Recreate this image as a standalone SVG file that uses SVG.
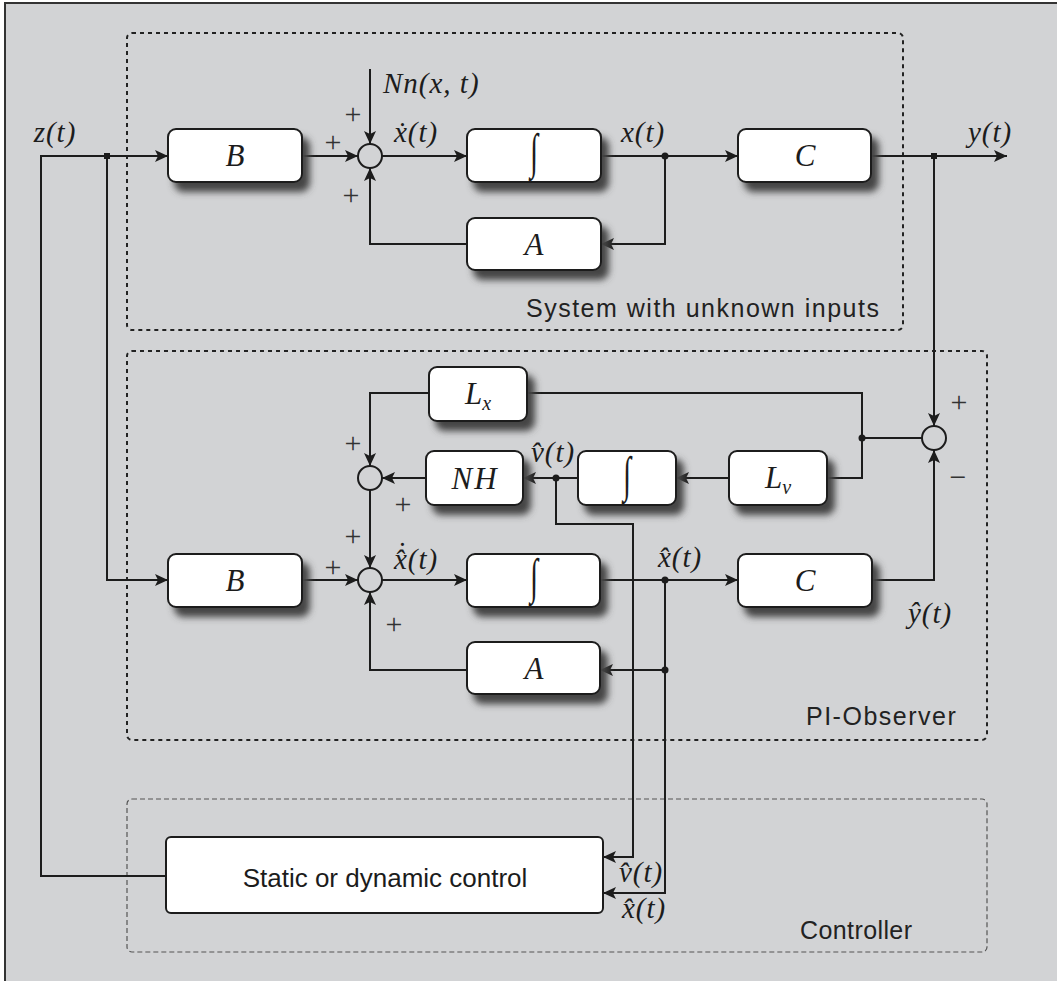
<svg xmlns="http://www.w3.org/2000/svg" width="1057" height="981" viewBox="0 0 1057 981">
<defs>
<filter id="sh" x="-20%" y="-30%" width="150%" height="190%">
<feDropShadow dx="7" dy="9" stdDeviation="3.5" flood-color="#454545" flood-opacity="1"/>
</filter>
<marker id="ar" markerUnits="userSpaceOnUse" markerWidth="14" markerHeight="12" refX="13" refY="6" orient="auto">
<path d="M0,0 L13,6 L0,12 L3,6 z" fill="#1c1c1c"/>
</marker>
<style>
.blk{fill:#fff;stroke:#1c1c1c;stroke-width:2;filter:url(#sh)}
.ln{fill:none;stroke:#1c1c1c;stroke-width:2}
.arr{fill:none;stroke:#1c1c1c;stroke-width:2;marker-end:url(#ar)}
.sum{fill:none;stroke:#1c1c1c;stroke-width:2}
.grp{fill:none;stroke:#222;stroke-width:2;stroke-dasharray:4 4}
.grpc{fill:none;stroke:#555;stroke-width:1.2;stroke-dasharray:5 3}
.m{font-family:"Liberation Serif","Times New Roman",serif;font-style:italic;fill:#1c1c1c;font-size:29px;letter-spacing:1px}
.mb{font-family:"Liberation Serif","Times New Roman",serif;font-style:italic;fill:#1c1c1c;font-size:31px;text-anchor:middle}
.int{font-family:"Liberation Serif","DejaVu Serif",serif;fill:#1c1c1c;font-size:34px;text-anchor:middle}
.pm{font-family:"Liberation Serif","Times New Roman",serif;fill:#333;font-size:30px;text-anchor:middle}
.sl{font-family:"Liberation Sans",Arial,sans-serif;fill:#222;font-size:25px;letter-spacing:1.5px}
.dot{fill:#1c1c1c}
</style>
</defs>
<rect x="5" y="3" width="1070" height="1000" fill="#d2d3d5" stroke="#333" stroke-width="2"/>
<g id="groups">
<rect id="system-box" class="grp" x="127" y="33" width="776" height="297" rx="5"/>
<rect id="observer-box" class="grp" x="127" y="351" width="860" height="389" rx="5"/>
<rect id="controller-box" class="grpc" x="127" y="799" width="860" height="153" rx="5"/>
<text class="sl" x="526" y="317">System with unknown inputs</text>
<text class="sl" x="806" y="725">PI-Observer</text>
<text class="sl" x="800" y="939" style="letter-spacing:0.4px">Controller</text>
</g>
<g id="connectors">
<path class="arr" d="M166,876 H41 V156 H168"/>
<path class="arr" d="M302,156 H358"/>
<path class="arr" d="M370,69 V144"/>
<path class="arr" d="M382,156 H467"/>
<path class="arr" d="M601,156 H738"/>
<path class="arr" d="M665,156 V244 H601"/>
<path class="arr" d="M467,244 H370 V168"/>
<path class="arr" d="M871,156 H1007"/>
<path class="arr" d="M934,156 V426"/>
<path class="arr" d="M107,156 V580 H168"/>
<path class="arr" d="M302,580 H358"/>
<path class="arr" d="M382,580 H467"/>
<path class="arr" d="M600,580 H738"/>
<path class="arr" d="M872,580 H934 V450"/>
<path class="ln" d="M922,438 H862"/>
<path class="ln" d="M862,438 V393 H527"/>
<path class="ln" d="M862,438 V478 H827"/>
<path class="arr" d="M429,393 H370 V466"/>
<path class="arr" d="M729,478 H676"/>
<path class="arr" d="M578,478 H523"/>
<path class="arr" d="M426,478 H382"/>
<path class="arr" d="M370,490 V568"/>
<path class="arr" d="M665,580 V670 H600"/>
<path class="arr" d="M665,670 V893 H603"/>
<path class="arr" d="M467,670 H370 V592"/>
<path class="arr" d="M556,478 V524 H633 V857 H603"/>
<rect class="dot" x="104" y="153" width="6" height="6"/>
<rect class="dot" x="931" y="153" width="6" height="6"/>
<circle class="dot" cx="665" cy="156" r="3.5"/>
<circle class="dot" cx="862" cy="438" r="3.5"/>
<circle class="dot" cx="556" cy="478" r="3.5"/>
<circle class="dot" cx="665" cy="580" r="3.5"/>
<circle class="dot" cx="665" cy="670" r="3.5"/>
</g>
<g id="sum1"><circle class="sum" cx="370" cy="156" r="12"/></g>
<g id="sum-small"><circle class="sum" cx="370" cy="478" r="12"/></g>
<g id="sum2"><circle class="sum" cx="370" cy="580" r="12"/></g>
<g id="sum3"><circle class="sum" cx="934" cy="438" r="12"/></g>
<g id="sys-B"><rect class="blk" x="168" y="129" width="134" height="53" rx="8"/><text class="mb" x="235" y="166">B</text></g>
<g id="sys-int"><rect class="blk" x="467" y="129" width="134" height="53" rx="8"/><text class="int" transform="translate(534,168) scale(0.85,1.45)">∫</text></g>
<g id="sys-C"><rect class="blk" x="738" y="129" width="133" height="53" rx="8"/><text class="mb" x="805" y="166">C</text></g>
<g id="sys-A"><rect class="blk" x="467" y="218" width="134" height="52" rx="8"/><text class="mb" x="534" y="255">A</text></g>
<g id="obs-Lx"><rect class="blk" x="429" y="367" width="98" height="54" rx="8"/><text class="mb" x="478" y="404">L<tspan font-size="20" dy="6">x</tspan></text></g>
<g id="obs-NH"><rect class="blk" x="426" y="451" width="97" height="54" rx="8"/><text class="mb" x="475" y="489" letter-spacing="2">NH</text></g>
<g id="obs-intv"><rect class="blk" x="578" y="451" width="98" height="54" rx="8"/><text class="int" transform="translate(627,491) scale(0.85,1.45)">∫</text></g>
<g id="obs-Lv"><rect class="blk" x="729" y="451" width="98" height="54" rx="8"/><text class="mb" x="778" y="488">L<tspan font-size="20" dy="6">v</tspan></text></g>
<g id="obs-B"><rect class="blk" x="168" y="554" width="134" height="53" rx="8"/><text class="mb" x="235" y="591">B</text></g>
<g id="obs-int"><rect class="blk" x="467" y="554" width="133" height="53" rx="8"/><text class="int" transform="translate(534,593) scale(0.85,1.45)">∫</text></g>
<g id="obs-C"><rect class="blk" x="738" y="554" width="134" height="53" rx="8"/><text class="mb" x="805" y="591">C</text></g>
<g id="obs-A"><rect class="blk" x="467" y="642" width="133" height="52" rx="8"/><text class="mb" x="534" y="679">A</text></g>
<g id="controller"><rect x="166" y="837" width="437" height="76" rx="5" fill="#fff" stroke="#1c1c1c" stroke-width="2"/><text x="385" y="887" text-anchor="middle" font-family="Liberation Sans Narrow,Liberation Sans,Arial,sans-serif" font-size="26" fill="#1c1c1c">Static or dynamic control</text></g>
<g id="labels">
<text class="m" x="55" y="142" text-anchor="middle">z(t)</text>
<text class="m" x="383" y="93">Nn(x, t)</text>
<text class="m" x="416" y="142" text-anchor="middle">ẋ(t)</text>
<text class="m" x="643" y="142" text-anchor="middle">x(t)</text>
<text class="m" x="990" y="142" text-anchor="middle">y(t)</text>
<text class="m" x="416" y="569" text-anchor="middle">x̂(t)</text>
<text class="m" x="401" y="563" text-anchor="middle" font-style="normal">˙</text>
<text class="m" x="553" y="462" text-anchor="middle">v̂(t)</text>
<text class="m" x="680" y="567" text-anchor="middle">x̂(t)</text>
<text class="m" x="930" y="623" text-anchor="middle">ŷ(t)</text>
<text class="m" x="641" y="882" text-anchor="middle" font-size="23">v̂(t)</text>
<text class="m" x="644" y="918" text-anchor="middle" font-size="23">x̂(t)</text>
<text class="pm" x="353" y="124">+</text>
<text class="pm" x="333" y="152">+</text>
<text class="pm" x="351" y="205">+</text>
<text class="pm" x="353" y="453">+</text>
<text class="pm" x="403" y="514">+</text>
<text class="pm" x="353" y="546">+</text>
<text class="pm" x="333" y="577">+</text>
<text class="pm" x="394" y="634">+</text>
<text class="pm" x="959" y="412">+</text>
<text class="pm" x="958" y="487">−</text>
</g>
</svg>
